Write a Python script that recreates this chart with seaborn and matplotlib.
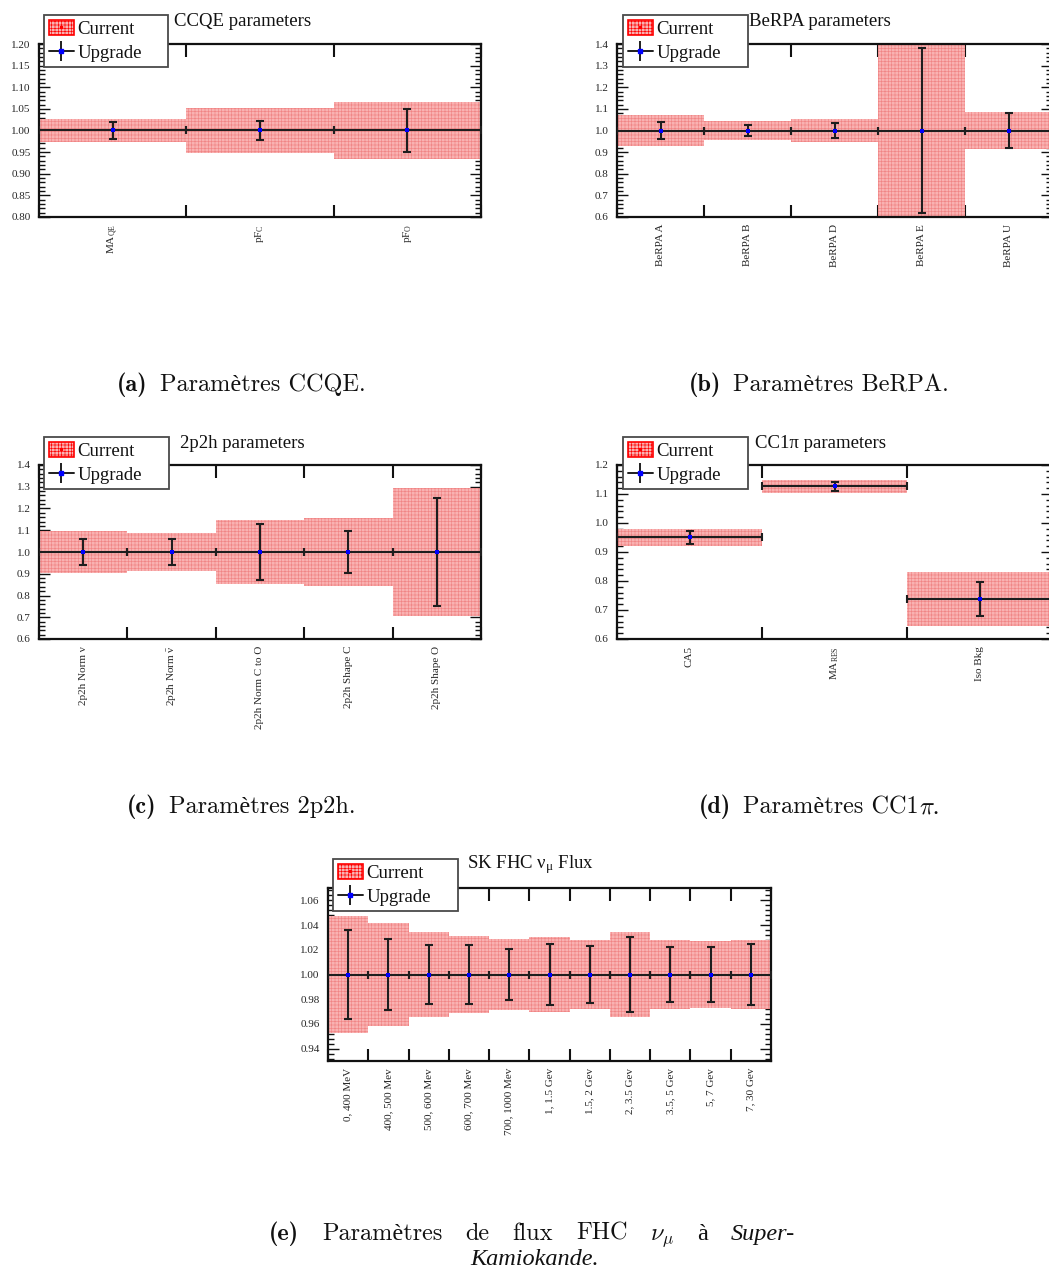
import numpy as np
import matplotlib
matplotlib.use("Agg")
import matplotlib.pyplot as plt
import seaborn as sns
from matplotlib.patches import Patch
from matplotlib.lines import Line2D
from matplotlib.ticker import AutoMinorLocator, FixedLocator, MultipleLocator, FormatStrFormatter

# ---- data ----
ccqe_labels = [r"MA$_{\mathrm{QE}}$", r"pF$_{\mathrm{C}}$", r"pF$_{\mathrm{O}}$"]
ccqe_central = [1.0, 1.0, 1.0]
ccqe_current = [0.026, 0.052, 0.065]
ccqe_upgrade = [0.019, 0.022, 0.050]

berpa_labels = ["BeRPA A", "BeRPA B", "BeRPA D", "BeRPA E", "BeRPA U"]
berpa_central = [1.0, 1.0, 1.0, 1.0, 1.0]
berpa_current = [0.070, 0.044, 0.052, 0.45, 0.084]
berpa_upgrade = [0.040, 0.026, 0.035, 0.38, 0.082]

twop_labels = ["2p2h Norm ν", r"2p2h Norm $\bar{\mathrm{\nu}}$", "2p2h Norm C to O",
               "2p2h Shape C", "2p2h Shape O"]
twop_central = [1.0, 1.0, 1.0, 1.0, 1.0]
twop_current = [0.098, 0.089, 0.149, 0.157, 0.296]
twop_upgrade = [0.058, 0.060, 0.130, 0.095, 0.250]

cc1pi_labels = ["CA5", r"MA$_{\mathrm{RES}}$", "Iso Bkg"]
cc1pi_central = [0.950, 1.126, 0.737]
cc1pi_current = [0.031, 0.021, 0.093]
cc1pi_upgrade = [0.022, 0.0145, 0.058]

flux_labels = ["0, 400 MeV", "400, 500 Mev", "500, 600 Mev", "600, 700 Mev",
               "700, 1000 Mev", "1, 1.5 Gev", "1.5, 2 Gev", "2, 3.5 Gev",
               "3.5, 5 Gev", "5, 7 Gev", "7, 30 Gev"]
flux_central = [1.0] * 11
flux_current = [0.047, 0.042, 0.034, 0.031, 0.029, 0.030, 0.028, 0.034, 0.028, 0.027, 0.028]
flux_upgrade = [0.036, 0.029, 0.024, 0.024, 0.021, 0.025, 0.023, 0.030, 0.022, 0.0225, 0.0245]

# ---- style ----
sns.set_theme(style="ticks")
plt.rcParams["font.family"] = ["Liberation Serif", "DejaVu Serif"]
plt.rcParams["mathtext.fontset"] = "custom"
plt.rcParams["mathtext.rm"] = "Liberation Serif"
plt.rcParams["mathtext.it"] = "Liberation Serif:italic"
plt.rcParams["mathtext.bf"] = "Liberation Serif:bold"
plt.rcParams["hatch.linewidth"] = 0.45
plt.rcParams["text.color"] = "#111111"

W, H = 1049, 1268
fig = plt.figure(figsize=(W / 100, H / 100), dpi=100)

BAND = "#f9b2b2"
HATCH_C = "#f08484"
HATCH = "+++++"


def fx(px):
    return px / W


def fy(py):
    return 1 - py / H


def draw_panel(box, labels, central, current, upgrade, ylim, major, fmt,
               title, title_x, title_base, leg_box):
    x0, y0, x1, y1 = box
    ax = fig.add_axes([fx(x0), fy(y1), (x1 - x0) / W, (y1 - y0) / H])
    n = len(labels)
    xs = np.arange(n)
    central = np.asarray(central)
    current = np.asarray(current)
    upgrade = np.asarray(upgrade)

    ax.bar(xs, 2 * current, bottom=central - current, width=1.0, color=BAND,
           edgecolor=HATCH_C, hatch=HATCH, linewidth=0, zorder=1)
    ax.errorbar(xs, central, xerr=0.5, yerr=upgrade, fmt="none", ecolor="#1e1e1e",
                elinewidth=1.5, capsize=3.2, capthick=1.5, zorder=3)
    sns.scatterplot(x=xs, y=central, ax=ax, marker="s", color="blue", s=7,
                    linewidth=0, zorder=4, legend=False)

    ax.set_xlim(-0.5, n - 0.5)
    ax.set_ylim(*ylim)
    ax.set_xticks(xs)
    ax.set_xticklabels(labels, rotation=90, fontsize=8)
    ax.xaxis.set_minor_locator(FixedLocator(np.arange(n + 1) - 0.5))
    ax.yaxis.set_major_locator(MultipleLocator(major))
    ax.yaxis.set_minor_locator(AutoMinorLocator(5))
    ax.yaxis.set_major_formatter(FormatStrFormatter(fmt))
    ax.tick_params(axis="x", which="major", length=0, pad=5)
    ax.tick_params(axis="x", which="minor", length=9, width=1.5, direction="in",
                   top=True, bottom=True, color="#111111")
    ax.tick_params(axis="y", which="major", length=8, width=1.0, direction="in",
                   left=True, right=True, labelsize=8, pad=6, color="#111111")
    ax.tick_params(axis="y", which="minor", length=4, width=1.0, direction="in",
                   left=True, right=True, color="#111111")
    for s in ax.spines.values():
        s.set_visible(True)
        s.set_linewidth(1.6)
        s.set_color("#111111")
    ax.set_xlabel("")
    ax.set_ylabel("")

    fig.text(fx(title_x), fy(title_base), title, fontsize=13.5, ha="left", va="baseline")

    lx0, ly0, lx1, ly1 = leg_box
    cur_h = (Patch(facecolor=BAND, edgecolor="red", hatch=HATCH, linewidth=1.2),
             Line2D([], [], marker="s", color="red", ms=1.8, ls="none"))
    upg_h = (Line2D([], [], color="#1e1e1e", lw=1.4, marker="|", ms=15, mew=1.4),
             Line2D([], [], marker="s", color="blue", ms=2.5, ls="none"))
    leg = ax.legend([cur_h, upg_h], ["Current", "Upgrade"], loc="upper left",
                    bbox_to_anchor=(fx(lx0), fy(ly1), (lx1 - lx0) / W, (ly1 - ly0) / H),
                    bbox_transform=fig.transFigure, mode="expand", borderaxespad=0,
                    fontsize=13.5, frameon=True, fancybox=False, framealpha=1,
                    edgecolor="#4a4a4a", handlelength=1.3, handleheight=0.85,
                    handletextpad=0.2, borderpad=0.28, labelspacing=0.32)
    leg.get_frame().set_linewidth(1.3)
    return ax


draw_panel((39, 44, 481, 217), ccqe_labels, ccqe_central, ccqe_current, ccqe_upgrade,
           (0.8, 1.2), 0.05, "%.2f", "CCQE parameters", 174, 26, (44, 15, 168, 65))
draw_panel((617, 44, 1052, 217), berpa_labels, berpa_central, berpa_current, berpa_upgrade,
           (0.6, 1.4), 0.1, "%.1f", "BeRPA parameters", 749, 26, (623, 15, 748, 65))
draw_panel((39, 465, 481, 639), twop_labels, twop_central, twop_current, twop_upgrade,
           (0.6, 1.4), 0.1, "%.1f", "2p2h parameters", 180, 448, (44, 437, 169, 487))
draw_panel((617, 465, 1052, 639), cc1pi_labels, cc1pi_central, cc1pi_current, cc1pi_upgrade,
           (0.6, 1.2), 0.1, "%.1f", "CC1π parameters", 755, 448, (623, 437, 748, 487))
draw_panel((328, 888, 771, 1061), flux_labels, flux_central, flux_current, flux_upgrade,
           (0.93, 1.07), 0.02, "%.2f", r"SK FHC ν$_{\mathrm{\mu}}$ Flux", 467, 868,
           (333, 859, 458, 909))

# ---- sub-captions ----
CAP = 17.5
RM = dict(family=["cmr10", "Liberation Serif"], fontsize=CAP)
BF = dict(family=["cmb10", "Liberation Serif"], fontsize=CAP)
IT = dict(family=["Liberation Serif"], style="italic", fontsize=CAP)
MATH = dict(fontsize=CAP, math_fontfamily="cm")
renderer = fig.canvas.get_renderer()


def make_words(words, baseline):
    objs = []
    for txt, props in words:
        t = fig.text(0, fy(baseline), txt, ha="left", va="baseline", **props)
        objs.append(t)
    widths = [t.get_window_extent(renderer).width for t in objs]
    return objs, widths


def caption_center(words, xc, baseline, gaps):
    objs, widths = make_words(words, baseline)
    total = sum(widths) + sum(gaps)
    x = xc - total / 2
    for i, (t, w) in enumerate(zip(objs, widths)):
        t.set_x(fx(x))
        x += w + (gaps[i] if i < len(gaps) else 0)


def caption_justify(words, xl, xr, baseline):
    objs, widths = make_words(words, baseline)
    gap = (xr - xl - sum(widths)) / (len(objs) - 1)
    x = xl
    for t, w in zip(objs, widths):
        t.set_x(fx(x))
        x += w + gap


caption_center([("(a)", BF), ("Paramètres CCQE.", RM)], 241, 391, [12])
caption_center([("(b)", BF), ("Paramètres BeRPA.", RM)], 819, 391, [12])
caption_center([("(c)", BF), ("Paramètres 2p2h.", RM)], 241, 813, [12])
caption_center([("(d)", BF), ("Paramètres CC1", RM), (r"$\pi$.", MATH)], 819, 813, [12, 0])
caption_justify([("(e)", BF), ("Paramètres", RM), ("de", RM), ("flux", RM), ("FHC", RM),
                 (r"$\nu_\mu$", MATH), ("à", RM), ("Super-", IT)], 269, 795, 1240)
caption_center([("Kamiokande.", IT)], 535, 1265, [])

fig.savefig("out.png", dpi=100)
